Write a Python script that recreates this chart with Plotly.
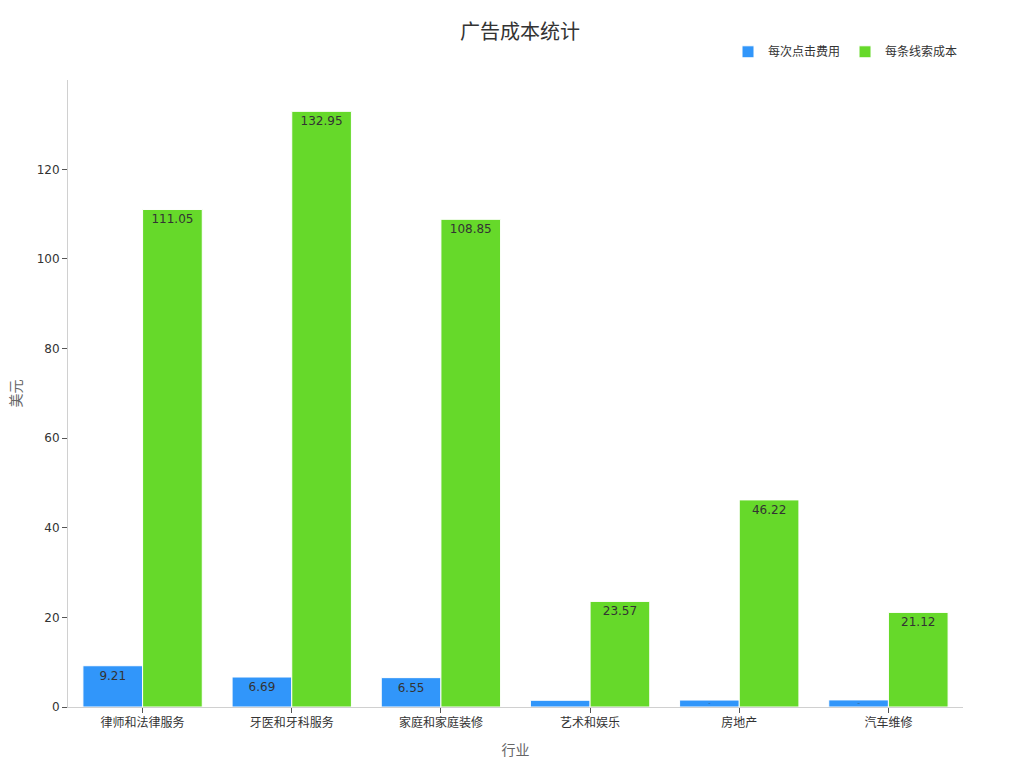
import plotly.graph_objects as go

categories = ["律师和法律服务", "牙医和牙科服务", "家庭和家庭装修", "艺术和娱乐", "房地产", "汽车维修"]
cpc = [9.21, 6.69, 6.55, 1.5, 1.55, 1.58]
cpl = [111.05, 132.95, 108.85, 23.57, 46.22, 21.12]

font_family = "DejaVu Sans, Noto Sans CJK SC, sans-serif"

fig = go.Figure()
fig.add_trace(go.Bar(
    name="每次点击费用", x=categories, y=cpc,
    text=[f"{v:.2f}" for v in cpc], textposition="inside",
    insidetextanchor="end",
    textfont=dict(color="#333333", size=12),
    marker=dict(color="#3196fa", line=dict(color="white", width=1)),
))
fig.add_trace(go.Bar(
    name="每条线索成本", x=categories, y=cpl,
    text=[f"{v:.2f}" for v in cpl], textposition="inside",
    insidetextanchor="end",
    textfont=dict(color="#333333", size=12),
    marker=dict(color="#66d92a", line=dict(color="white", width=1)),
))

fig.update_layout(
    width=1024, height=768,
    barmode="group", bargap=0.2, bargroupgap=0,
    paper_bgcolor="white", plot_bgcolor="white",
    font=dict(family=font_family, color="#333333", size=12),
    title=dict(text="广告成本统计", x=0.5, xanchor="center", y=0.969, yanchor="middle",
               font=dict(size=20, color="#333333")),
    margin=dict(l=60, r=69, t=72, b=69),
    legend=dict(orientation="h", x=1.0, xanchor="right", y=1.045, yanchor="middle",
                font=dict(size=12, color="#333333"), itemwidth=30),
    uniformtext=dict(minsize=1),
    xaxis=dict(title=dict(text="行业", font=dict(size=14, color="#666666")),
               showline=True, linecolor="#d0d0d0", ticks="outside", ticklen=5,
               tickcolor="#555555", showgrid=False, automargin=False),
    yaxis=dict(title=dict(text="美元", font=dict(size=14, color="#666666"), standoff=20),
               showline=True, linecolor="#d0d0d0", ticks="outside", ticklen=5,
               tickcolor="#555555", showgrid=False, zeroline=False,
               autorange=True, rangemode="tozero", automargin=False),
)

fig.write_html("out.html")
